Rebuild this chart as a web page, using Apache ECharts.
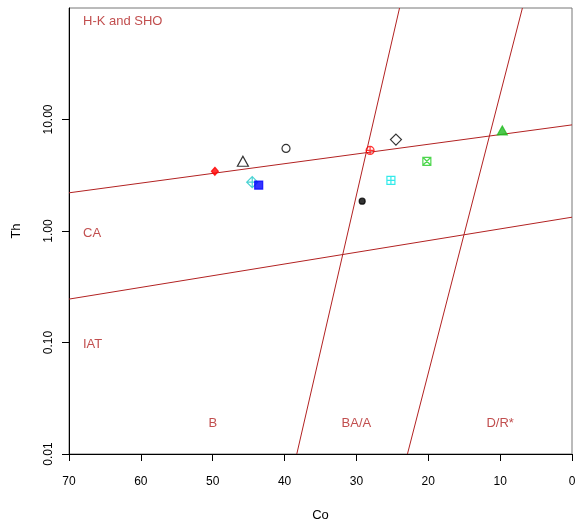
<!DOCTYPE html>
<html>
<head>
<meta charset="utf-8">
<script src="https://cdn.jsdelivr.net/npm/echarts@6/dist/echarts.min.js"></script>
<style>
  html, body { margin: 0; padding: 0; background: #fff; }
</style>
</head>
<body>
<div id="main" style="width: 576px;height:525px;"></div>
<script>
    // sample points (Co, Th)
    var sampleCo = [49.7, 45.8, 39.8, 44.5, 43.6, 29.2, 28.1, 24.5, 25.2, 20.2, 9.7];
    var sampleTh = [3.43, 4.22, 5.5, 2.74, 2.58, 1.85, 5.28, 6.6, 2.85, 4.22, 7.98];

    // field boundaries, [Co, Th] end points
    var boundaryUpper = [[70, 2.2], [0, 8.95]];
    var boundaryLower = [[70, 0.245], [0, 1.33]];
    var boundaryBA = [[38.3, 0.01], [24.0, 100]];
    var boundaryDR = [[22.9, 0.01], [6.9, 100]];

    // field names and where they sit
    var fieldNames = ['H-K and SHO', 'CA', 'IAT', 'B', 'BA/A', 'D/R*'];
    var fieldCo = [68.05, 68.05, 68.05, 50, 30, 10];
    var fieldTh = [76, 0.95, 0.097, 0.0189, 0.0189, 0.0189];

    var xTicks = [0, 10, 20, 30, 40, 50, 60, 70];
    var yTicks = [0.01, 0.1, 1, 10];

    var fieldColor = '#b22222';

    // R style plotting symbols, one for each sample
    var pchCircPlus = 'path://M10,5 A5,5 0 1 1 0,5 A5,5 0 1 1 10,5 Z M0,5 L10,5 M5,0 L5,10';
    var pchSqPlus = 'path://M0,0 L10,0 L10,10 L0,10 Z M0,5 L10,5 M5,0 L5,10';
    var pchSqX = 'path://M0,0 L10,0 L10,10 L0,10 Z M0,0 L10,10 M10,0 L0,10';
    var pchDiaPlus = 'path://M0,5 L5,0 L10,5 L5,10 Z M0,5 L10,5 M5,0 L5,10';
    var sampleStyle = [
        {symbol: 'diamond', size: [7, 8], fill: '#ff0000', stroke: '#ff0000'},
        {symbol: 'triangle', size: [11, 10], fill: 'transparent', stroke: '#000'},
        {symbol: 'circle', size: 8, fill: 'transparent', stroke: '#000'},
        {symbol: pchDiaPlus, size: 11, fill: 'transparent', stroke: '#1ec8c8'},
        {symbol: 'rect', size: 8, fill: '#0000ff', stroke: '#0000ff'},
        {symbol: 'circle', size: 6, fill: '#000', stroke: '#000'},
        {symbol: pchCircPlus, size: 8, fill: 'transparent', stroke: '#ff0000'},
        {symbol: 'diamond', size: 11, fill: 'transparent', stroke: '#000'},
        {symbol: pchSqPlus, size: 8, fill: 'transparent', stroke: '#00e5e5'},
        {symbol: pchSqX, size: 8, fill: 'transparent', stroke: '#22cc22'},
        {symbol: 'triangle', size: [10, 9], fill: '#22bb22', stroke: '#22bb22'}
    ];

    var myChart = echarts.init(document.getElementById('main'));

    function boundary(data) {
        return {
            type: 'line',
            data: data,
            symbol: 'none',
            silent: true,
            lineStyle: {color: fieldColor, width: 1},
            z: 2
        };
    }

    var series = [
        boundary(boundaryUpper),
        boundary(boundaryLower),
        boundary(boundaryBA),
        boundary(boundaryDR)
    ];

    // field labels
    series.push({
        type: 'scatter',
        symbolSize: 0,
        silent: true,
        data: fieldNames.map(function (n, i) {
            return {
                value: [fieldCo[i], fieldTh[i]],
                label: {
                    show: true,
                    formatter: n,
                    position: 'inside',
                    align: i < 3 ? 'left' : 'center',
                    verticalAlign: 'middle',
                    color: fieldColor,
                    fontSize: 13,
                    fontFamily: 'Liberation Sans, Arial, sans-serif'
                }
            };
        })
    });

    sampleCo.forEach(function (co, i) {
        var s = sampleStyle[i];
        series.push({
            type: 'scatter',
            data: [[co, sampleTh[i]]],
            symbol: s.symbol,
            symbolSize: s.size,
            itemStyle: {color: s.fill, borderColor: s.stroke, borderWidth: 1.2},
            z: 3
        });
    });

    var option = {
        animation: false,
        grid: {
            left: 69, right: 4, top: 8, bottom: 71,
            outerBoundsMode: 'none',
            show: true, borderColor: '#777', borderWidth: 1
        },
        xAxis: {
            type: 'value',
            inverse: true,
            min: 0, max: 70, interval: 10,
            name: 'Co',
            nameLocation: 'middle',
            nameGap: 55,
            nameTextStyle: {fontSize: 13, color: '#000', fontFamily: 'Liberation Sans, Arial, sans-serif'},
            splitLine: {show: false},
            axisLine: {onZero: false, lineStyle: {color: '#000', width: 1}},
            axisTick: {length: 7, lineStyle: {color: '#000'}, customValues: xTicks},
            axisLabel: {
                margin: 22, fontSize: 12, color: '#000',
                fontFamily: 'Liberation Sans, Arial, sans-serif',
                customValues: xTicks
            }
        },
        yAxis: {
            type: 'log',
            logBase: 10,
            min: 0.01, max: 100,
            name: 'Th',
            nameLocation: 'middle',
            nameGap: 46,
            nameRotate: 90,
            nameTextStyle: {fontSize: 13, color: '#000', fontFamily: 'Liberation Sans, Arial, sans-serif'},
            splitLine: {show: false},
            axisLine: {onZero: false, lineStyle: {color: '#000', width: 1}},
            axisTick: {length: 7, lineStyle: {color: '#000'}, customValues: yTicks},
            axisLabel: {
                rotate: 90, margin: 14, fontSize: 12, color: '#000',
                fontFamily: 'Liberation Sans, Arial, sans-serif',
                customValues: yTicks,
                formatter: function (v) { return v.toFixed(2); }
            }
        },
        series: series
    };
    myChart.setOption(option);
</script>
</body>
</html>
